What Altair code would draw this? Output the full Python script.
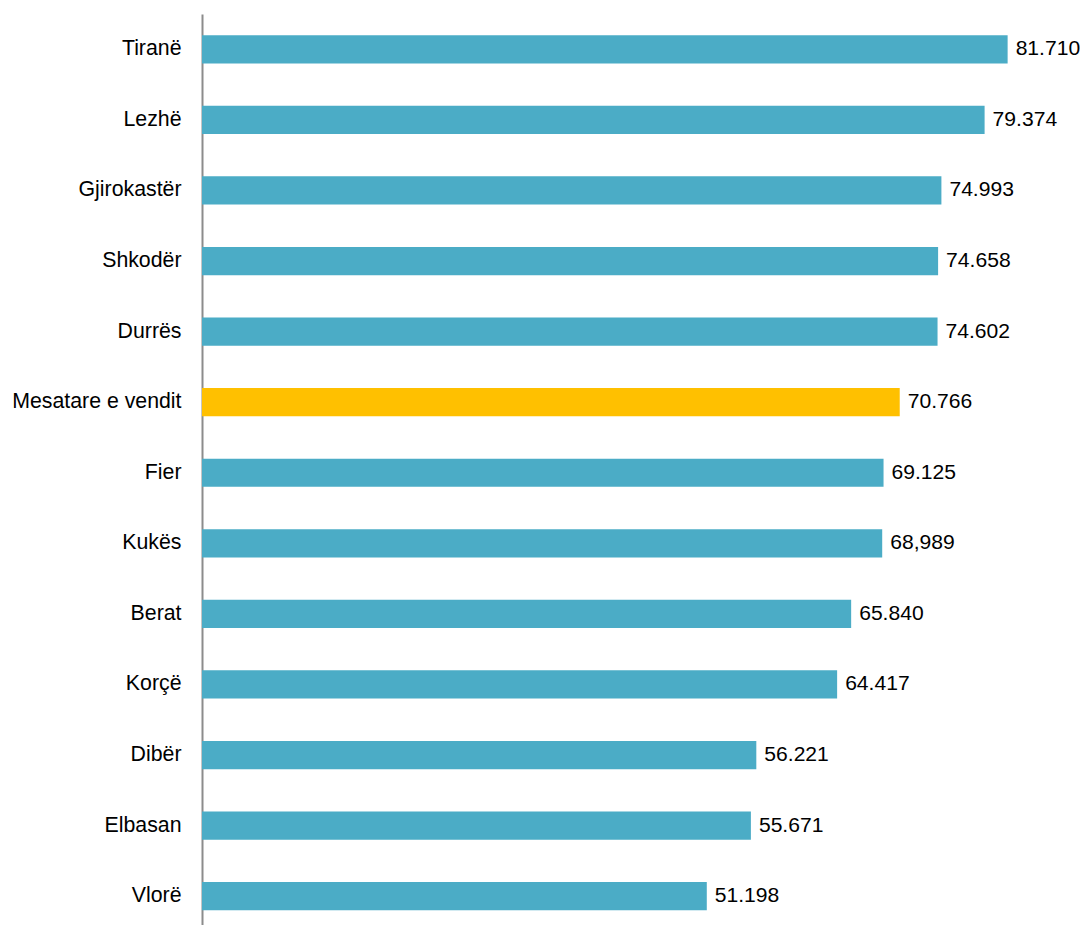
import altair as alt
import pandas as pd

regions = ["Tiranë", "Lezhë", "Gjirokastër", "Shkodër", "Durrës", "Mesatare e vendit",
           "Fier", "Kukës", "Berat", "Korçë", "Dibër", "Elbasan", "Vlorë"]
values = [81.710, 79.374, 74.993, 74.658, 74.602, 70.766,
          69.125, 68.989, 65.840, 64.417, 56.221, 55.671, 51.198]
labels = ["81.710", "79.374", "74.993", "74.658", "74.602", "70.766",
          "69.125", "68,989", "65.840", "64.417", "56.221", "55.671", "51.198"]
highlight = "Mesatare e vendit"

df = pd.DataFrame({"region": regions, "value": values, "label": labels})
df["kind"] = ["avg" if r == highlight else "region" for r in regions]

FONT = "Liberation Sans"

y = alt.Y(
    "region:N", sort=regions, title=None,
    scale=alt.Scale(range=[0, 917.5], paddingInner=0.6, paddingOuter=0.3),
    axis=alt.Axis(ticks=False, tickSize=0, labelPadding=21, labelFontSize=21.3,
                  labelFont=FONT, labelColor="#000000", domainColor="#8c8c8c",
                  domainWidth=2, grid=False, labelLimit=400),
)
x = alt.X("value:Q", scale=alt.Scale(domain=[0, 89.05], nice=False, zero=True), axis=None)

bars = alt.Chart(df).mark_bar().encode(
    x=x, y=y,
    color=alt.Color("kind:N", scale=alt.Scale(domain=["region", "avg"],
                                              range=["#4BACC6", "#FFC000"]), legend=None),
)
text = alt.Chart(df).mark_text(
    align="left", baseline="middle", dx=8, font=FONT, fontSize=21.1, color="#000000"
).encode(x=x, y=y, text="label:N")

chart = (bars + text).properties(
    width=878, height=911,
    autosize=alt.AutoSizeParams(type="none"),
    padding={"left": 194, "top": 6, "right": 0, "bottom": 0},
).configure_view(stroke=None)

chart.save("out.html", embed_options={"renderer": "svg", "actions": False})
